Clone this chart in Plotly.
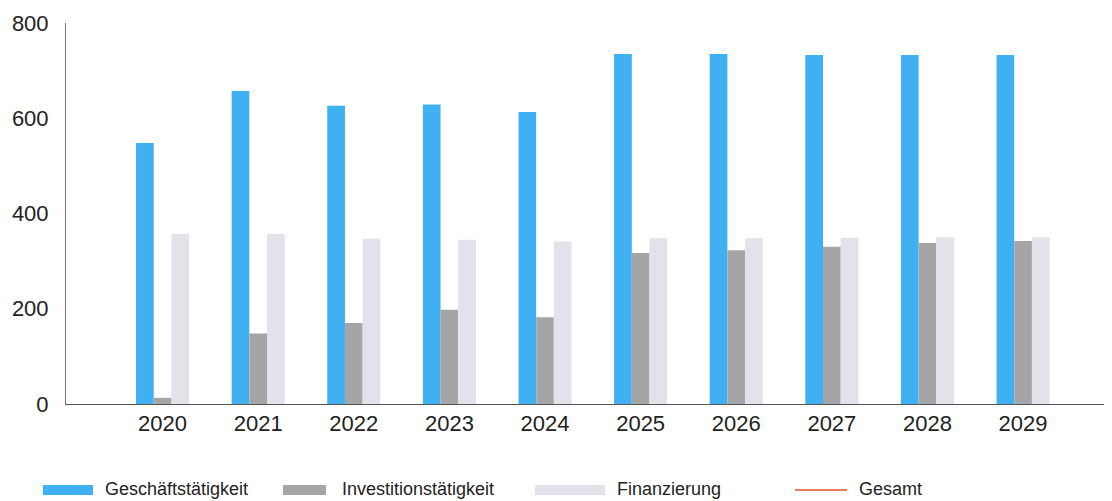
import plotly.graph_objects as go

years = ["2020", "2021", "2022", "2023", "2024", "2025", "2026", "2027", "2028", "2029"]
geschaeft = [548, 657, 626, 629, 613, 735, 735, 733, 733, 733]
investition = [13, 148, 170, 198, 182, 317, 323, 330, 338, 342]
finanzierung = [357, 357, 347, 345, 341, 348, 348, 349, 350, 350]

series_names = ["Geschäftstätigkeit", "Investitionstätigkeit", "Finanzierung", "Gesamt"]
colors = ["#3fb0f2", "#a5a5a8", "#e2e2ea", "#e0502a"]

# page body has an 8px margin, so the figure is 8px smaller than the window
OFF = 8
W, H = 1104, 493
L, R, T, B = 58, 0, 15, 97
FONT = "Liberation Sans, Arial, sans-serif"

fig = go.Figure()
for name, vals, col in zip(series_names[:3], [geschaeft, investition, finanzierung], colors[:3]):
    fig.add_trace(go.Bar(x=years, y=vals, name=name, marker=dict(color=col, line=dict(width=0)),
                         showlegend=False))

fig.update_layout(
    width=W, height=H,
    margin=dict(l=L, r=R, t=T, b=B),
    paper_bgcolor="white", plot_bgcolor="white",
    barmode="group", bargap=0.445, bargroupgap=0,
    font=dict(family=FONT, size=22, color="#222222"),
    xaxis=dict(type="category", range=[-1.01, 9.93], showgrid=False, zeroline=False,
               showline=True, linecolor="#555555", linewidth=1, ticks="",
               tickfont=dict(size=22, color="#222222"), ticklabelstandoff=0),
    yaxis=dict(range=[0, 800], tickvals=[0, 200, 400, 600, 800], showgrid=False, zeroline=False,
               showline=True, linecolor="#777777", linewidth=1, ticks="",
               tickfont=dict(size=22, color="#222222"), ticklabelstandoff=12),
)

# Manual legend (window pixel positions converted to paper coords)
pw = W - L - R
ph = H - T - B
def px(x):
    return (x - OFF - L) / pw
def py(y):
    return (H - B - (y - OFF)) / ph

legend_items = [
    ("rect", 43, 93, 103, series_names[0], colors[0]),
    ("rect", 283, 326, 340, series_names[1], colors[1]),
    ("rect", 535, 605, 615, series_names[2], colors[2]),
    ("line", 795, 847, 857, series_names[3], colors[3]),
]
shapes = []
annotations = []
for kind, x0, x1, tx, label, col in legend_items:
    if kind == "rect":
        shapes.append(dict(type="rect", xref="paper", yref="paper", x0=px(x0), x1=px(x1),
                           y0=py(495), y1=py(485), fillcolor=col, line=dict(width=0)))
    else:
        shapes.append(dict(type="line", xref="paper", yref="paper", x0=px(x0), x1=px(x1),
                           y0=py(490), y1=py(490), line=dict(color=col, width=1.5)))
    annotations.append(dict(xref="paper", yref="paper", x=px(tx), y=py(489), text=label,
                            showarrow=False, xanchor="left", yanchor="middle",
                            font=dict(size=18, color="#222222", family=FONT)))
fig.update_layout(shapes=shapes, annotations=annotations)

fig.write_html("out.html")
